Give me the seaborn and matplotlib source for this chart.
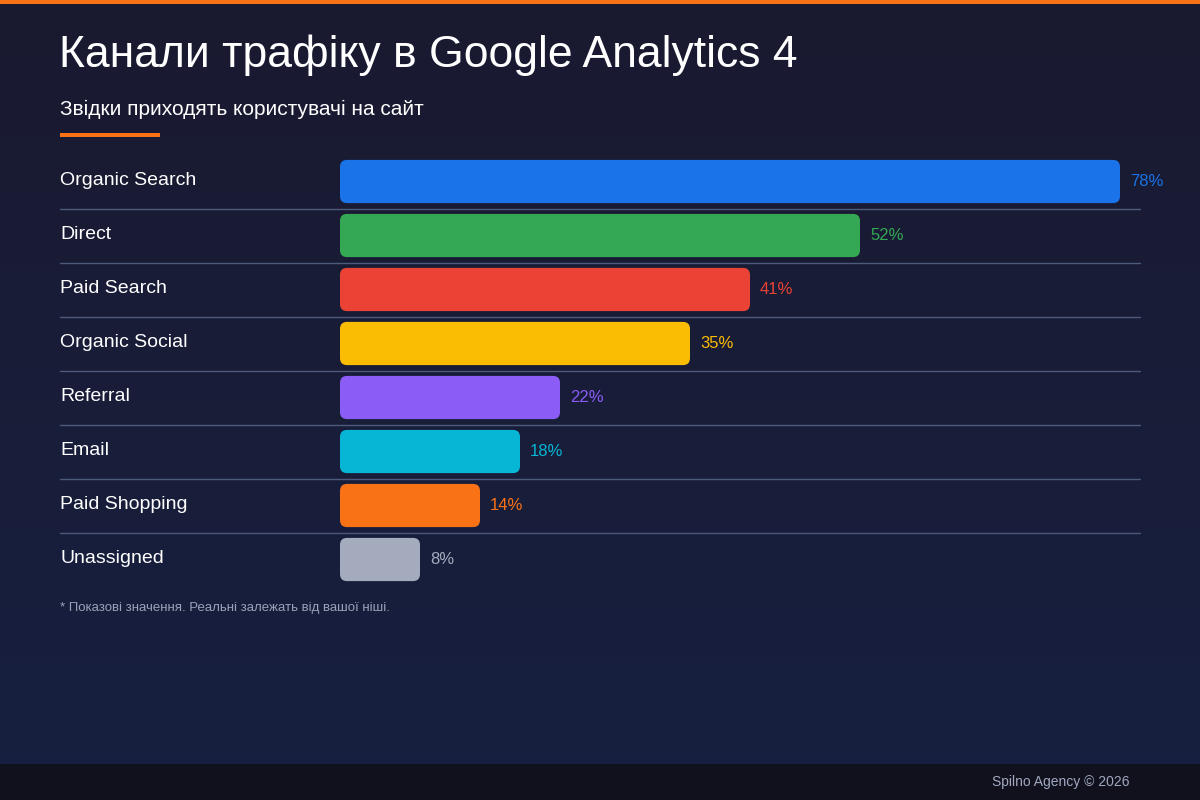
import numpy as np
import pandas as pd
import matplotlib
matplotlib.use("Agg")
import matplotlib.pyplot as plt
from matplotlib.patches import FancyBboxPatch
import seaborn as sns

channels = ["Organic Search", "Direct", "Paid Search", "Organic Social",
            "Referral", "Email", "Paid Shopping", "Unassigned"]
shares = [78, 52, 41, 35, 22, 18, 14, 8]
colors = ["#1a73e8", "#34a853", "#ea4335", "#fbbc04",
          "#8b5cf6", "#06b6d4", "#f97316", "#a3abbd"]

title = "Канали трафіку в Google Analytics 4"
subtitle = "Звідки приходять користувачі на сайт"
footnote = "* Показові значення. Реальні залежать від вашої ніші."
footer = "Spilno Agency © 2026"

sns.set_theme(style="white")
plt.rcParams["font.family"] = ["Liberation Sans", "DejaVu Sans"]

W, H = 1200, 800
fig = plt.figure(figsize=(12, 8), dpi=100)

# background gradient
bg = fig.add_axes([0, 0, 1, 1], zorder=-10)
grad = np.linspace(0, 1, 256).reshape(-1, 1)
top = np.array([0x1a, 0x1a, 0x30]) / 255
bot = np.array([0x17, 0x20, 0x41]) / 255
img = top[None, None, :] * (1 - grad[:, :, None]) + bot[None, None, :] * grad[:, :, None]
bg.imshow(img, aspect="auto", extent=[0, 1, 0, 1], origin="upper")
bg.set_xlim(0, 1); bg.set_ylim(0, 1)
bg.axis("off")
bg.add_patch(plt.Rectangle((0, 1 - 4 / H), 1, 4 / H, color="#f97316", lw=0))
bg.add_patch(plt.Rectangle((0, 0), 1, 36 / H, color="#11111e", lw=0))
bg.add_patch(plt.Rectangle((60 / W, 1 - 137 / H), 100 / W, 4 / H, color="#f97316", lw=0))

fig.text(59 / W, 1 - 55 / H, title, fontsize=32, color="white", va="center", ha="left")
fig.text(60 / W, 1 - 109 / H, subtitle, fontsize=15, color="white", va="center", ha="left")
fig.text(60 / W, 1 - 608 / H, footnote, fontsize=9.5, color="#9aa1b8", va="center", ha="left")
fig.text(1130 / W, 1 - 782 / H, footer, fontsize=10, color="#a0a8c0", va="center", ha="right")

# main axes
left, right = 340, 1140
row_top, row_bot = 154.5, 586.5
ax = fig.add_axes([left / W, 1 - row_bot / H, (right - left) / W, (row_bot - row_top) / H])
ax.set_facecolor("none")

df = pd.DataFrame({"channel": channels, "share": shares})
sns.barplot(data=df, x="share", y="channel", hue="channel", palette=colors,
            legend=False, orient="h", width=0.8, ax=ax, saturation=1)
ax.set_xlim(0, 80)
ax.set_ylim(len(channels) - 0.5, -0.5)

px_per_x = (right - left) / 80
px_per_y = (row_bot - row_top) / len(channels)
r_px = 7
rs = r_px / px_per_x
aspect = (r_px / px_per_y) / rs
base_off = 4.5 / px_per_y
for p in list(ax.patches):
    x0, y0 = p.get_x(), p.get_y()
    w, h = p.get_width(), p.get_height()
    fc = p.get_facecolor()
    p.set_visible(False)
    fb = FancyBboxPatch((x0, y0), w, h,
                        boxstyle=f"round,pad=0,rounding_size={rs}",
                        mutation_aspect=aspect, facecolor=fc, edgecolor="none",
                        zorder=3)
    ax.add_patch(fb)
    ax.text(x0 + w + 10 / px_per_x, y0 + h / 2 + base_off, f"{int(round(w))}%",
            color=fc, fontsize=12, va="baseline", ha="left", zorder=4)

# category labels at left edge
xlab = (60 - left) / (right - left)
for i, name in enumerate(channels):
    ax.text(xlab, i + base_off - 1 / px_per_y, name, transform=ax.get_yaxis_transform(),
            color="white", fontsize=14, va="baseline", ha="left")

# separators
for i in range(len(channels) - 1):
    ax.axhline(i + 0.5, xmin=xlab, xmax=1, color="#4c5a7c", lw=1, clip_on=False, zorder=1)

for s in ax.spines.values():
    s.set_visible(False)
ax.set_xticks([])
ax.set_yticks([])
ax.set_xlabel("")
ax.set_ylabel("")

fig.savefig("out.png", dpi=100)
